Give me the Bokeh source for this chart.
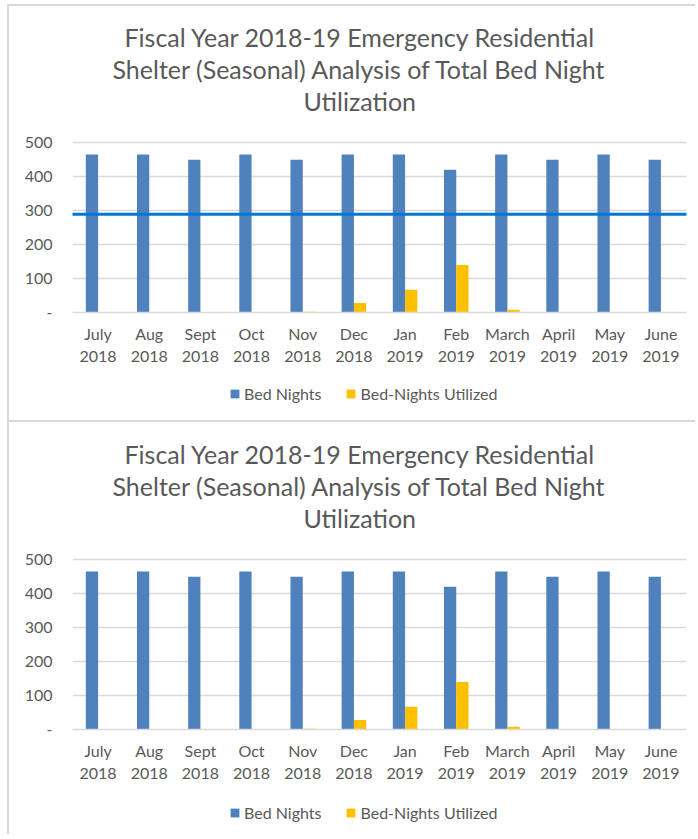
from bokeh.plotting import figure
from bokeh.layouts import column
from bokeh.models import (FactorRange, Range1d, FixedTicker, Legend, LegendItem,
                          Title, BoxAnnotation, ColumnDataSource)
from bokeh.transform import dodge
from bokeh.embed import file_html
from bokeh.resources import INLINE

months = ["July\n2018", "Aug\n2018", "Sept\n2018", "Oct\n2018", "Nov\n2018", "Dec\n2018",
          "Jan\n2019", "Feb\n2019", "March\n2019", "April\n2019", "May\n2019", "June\n2019"]
bed_nights = [465, 465, 450, 465, 450, 465, 465, 420, 465, 450, 465, 450]
bed_nights_utilized = [0, 0, 0, 0, 2, 28, 67, 140, 8, 0, 0, 0]
y_ticks = [0, 100, 200, 300, 400, 500]
series_names = ["Bed Nights", "Bed-Nights Utilized"]
title_lines = ["Fiscal Year 2018-19 Emergency Residential",
               "Shelter (Seasonal) Analysis of Total Bed Night",
               "Utilization"]
stray_line_value = 289

FONT = "Lato"
GRAY = "#595959"
BLUE = "#4F81BD"
YELLOW = "#FFC000"
BORDER = "2px solid #d9d9d9"
W = 688
# left offsets (px from plot-area left) that centre each title line on the chart box
title_offsets = [52, 40, 231]


def add_bars(p, src, width=0.24):
    r1 = p.vbar(x=dodge("month", -0.12, range=p.x_range), top="beds", width=width,
                source=src, fill_color=BLUE, line_color=None)
    r2 = p.vbar(x=dodge("month", 0.12, range=p.x_range), top="used", width=width,
                source=src, fill_color=YELLOW, line_color=None)
    return r1, r2


def make_chart(height, top_border):
    src = ColumnDataSource(dict(month=months, beds=bed_nights, used=bed_nights_utilized))
    p = figure(width=W, height=height, x_range=FactorRange(*months, range_padding=0),
               y_range=Range1d(0, 580), output_backend="svg", toolbar_location=None,
               min_border_left=63, min_border_right=11, min_border_top=top_border,
               min_border_bottom=58)
    p.outline_line_color = None
    p.title.visible = False
    for line, off in reversed(list(zip(title_lines, title_offsets))):
        t = Title(text=line, align="left", text_font=FONT, text_font_size="25px",
                  text_color=GRAY, text_font_style="normal", standoff=0, offset=off)
        p.add_layout(t, "above")

    add_bars(p, src)

    p.xgrid.grid_line_color = None
    p.ygrid.grid_line_color = "#d9d9d9"
    p.ygrid.grid_line_width = 1.3
    p.yaxis.ticker = FixedTicker(ticks=y_ticks)
    p.yaxis.major_label_overrides = {0: "-"}
    p.yaxis.axis_line_color = None
    p.yaxis.major_tick_line_color = None
    p.yaxis.minor_tick_line_color = None
    p.yaxis.major_tick_out = 0
    p.yaxis.major_tick_in = 0
    p.yaxis.major_label_standoff = 20
    p.yaxis.major_label_text_font = FONT
    p.yaxis.major_label_text_font_size = "16px"
    p.yaxis.major_label_text_color = GRAY

    p.xaxis.axis_line_color = "#d9d9d9"
    p.xaxis.axis_line_width = 1.5
    p.xaxis.major_tick_line_color = None
    p.xaxis.major_label_standoff = 5
    p.xaxis.major_label_text_font = FONT
    p.xaxis.major_label_text_font_size = "16px"
    p.xaxis.major_label_text_color = GRAY
    return p


def make_legend(height, bottom, ypos):
    # legend strip: same series, on a y range where the bars fall out of view
    src = ColumnDataSource(dict(month=months, beds=bed_nights, used=bed_nights_utilized))
    p = figure(width=W, height=height, x_range=FactorRange(*months, range_padding=0),
               y_range=Range1d(1000, 2000), output_backend="svg", toolbar_location=None,
               x_axis_type=None, y_axis_type=None,
               min_border_left=0, min_border_right=0, min_border_top=0,
               min_border_bottom=bottom)
    p.outline_line_color = None
    r1, r2 = add_bars(p, src, width=0.0001)
    legend = Legend(items=[LegendItem(label=series_names[0], renderers=[r1]),
                           LegendItem(label=series_names[1], renderers=[r2])],
                    orientation="horizontal", location=(157, ypos),
                    label_text_font=FONT, label_text_font_size="16px",
                    label_text_color=GRAY, glyph_width=11, glyph_height=11,
                    spacing=24, label_standoff=4, border_line_color=None,
                    background_fill_alpha=0, padding=0, margin=0)
    p.add_layout(legend)
    return p


p1 = make_chart(364, 109)
p1.margin = (4, 0, 0, 7)
p1.styles = {"border-top": BORDER, "border-left": BORDER}
band = BoxAnnotation(left=0, left_units="canvas", right=W, right_units="canvas",
                     top=stray_line_value + 4.4, bottom=stray_line_value - 4.4,
                     fill_color="#0078D7", fill_alpha=1, line_alpha=0)
p1.add_layout(band)

l1 = make_legend(52, 4, 13)
l1.margin = (0, 0, 0, 7)
l1.styles = {"border-left": BORDER}

p2 = make_chart(365, 110)
p2.margin = (0, 0, 0, 7)
p2.styles = {"border-top": BORDER, "border-left": BORDER}

l2 = make_legend(49, 2, 10)
l2.margin = (0, 0, 0, 7)
l2.styles = {"border-left": BORDER}

layout = column(p1, l1, p2, l2, spacing=0)
open("out.html", "w").write(file_html(layout, INLINE))
